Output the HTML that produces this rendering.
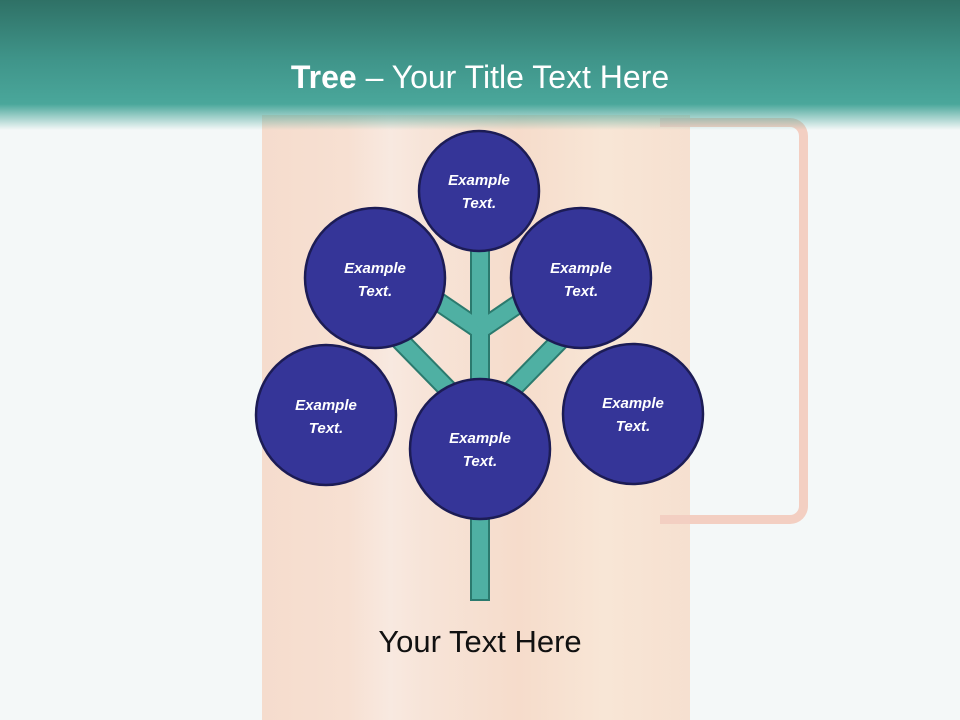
<!DOCTYPE html>
<html><head><style>
body{margin:0;width:960px;height:720px;overflow:hidden;background:#f4f8f8;font-family:"Liberation Sans",sans-serif;position:relative}
.hdr{position:absolute;left:0;top:0;width:960px;height:130px;background:linear-gradient(#2f7166 0%,#3f9489 45%,#4aa79b 80%,rgba(255,255,255,0) 100%)}
.title{position:absolute;top:57px;width:960px;text-align:center;color:#fff;font-size:32px;line-height:40px}
.mug{position:absolute;left:262px;top:115px;width:428px;height:605px;background:linear-gradient(90deg,#f5dccd 0%,#f7e0d2 20%,#f8e9e0 30%,#f7e4d8 38%,#f6dccb 60%,#f8e6d6 80%,#f6e0d0 100%)}
.handle{position:absolute;left:660px;top:118px;width:148px;height:406px;border:9px solid #f3cfc2;border-left:none;border-radius:0 18px 18px 0;box-sizing:border-box}
.bottom{position:absolute;top:624px;width:960px;text-align:center;font-size:31px;color:#111}
</style></head><body>
<div class="mug"></div>
<div class="handle"></div>
<div class="hdr"></div>
<div class="title"><b>Tree</b> – Your Title Text Here</div>
<svg width="960" height="720" style="position:absolute;left:0;top:0">
<g stroke="#2b7a6e" stroke-width="20" stroke-linecap="butt">
<line x1="480" y1="240" x2="480" y2="601"/>
<line x1="480" y1="330" x2="430" y2="296"/>
<line x1="480" y1="330" x2="530" y2="296"/>
<line x1="468" y1="410" x2="385" y2="325"/>
<line x1="492" y1="410" x2="575" y2="325"/>
</g>
<g stroke="#4fb0a3" stroke-width="16" stroke-linecap="butt">
<line x1="480" y1="240" x2="480" y2="599"/>
<line x1="480" y1="330" x2="430" y2="296"/>
<line x1="480" y1="330" x2="530" y2="296"/>
<line x1="468" y1="410" x2="385" y2="325"/>
<line x1="492" y1="410" x2="575" y2="325"/>
</g>
<g fill="#353598" stroke="#1c1c55" stroke-width="2.5">
<circle cx="479" cy="191" r="60"/>
<circle cx="375" cy="278" r="70"/>
<circle cx="581" cy="278" r="70"/>
<circle cx="326" cy="415" r="70"/>
<circle cx="633" cy="414" r="70"/>
<circle cx="480" cy="449" r="70"/>
</g>
<g fill="#fff" font-family="Liberation Sans,sans-serif" font-size="15" font-weight="bold" font-style="italic" text-anchor="middle">
<text x="479" y="185">Example</text><text x="479" y="208">Text.</text>
<text x="375" y="273">Example</text><text x="375" y="296">Text.</text>
<text x="581" y="273">Example</text><text x="581" y="296">Text.</text>
<text x="326" y="410">Example</text><text x="326" y="433">Text.</text>
<text x="633" y="408">Example</text><text x="633" y="431">Text.</text>
<text x="480" y="443">Example</text><text x="480" y="466">Text.</text>
</g>
</svg>
<div class="bottom">Your Text Here</div>
</body></html>
